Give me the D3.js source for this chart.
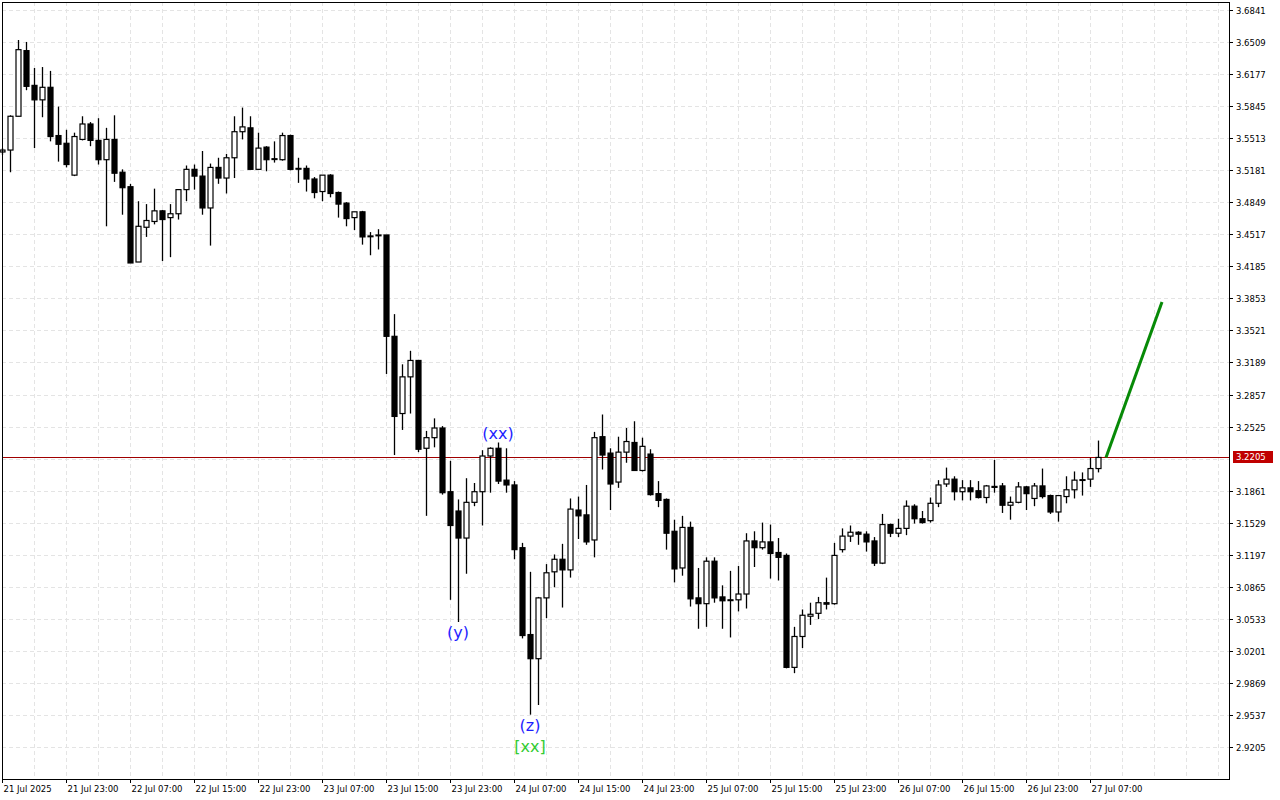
<!DOCTYPE html>
<html><head><meta charset="utf-8">
<script src="https://cdn.jsdelivr.net/npm/d3@7"></script>
<style>body{margin:0;background:#fff}svg{display:block}text{font-family:"DejaVu Sans",sans-serif}</style>
</head><body><svg id="c" width="1280" height="800"></svg>
<script>
// [open, high, low, close], hourly candles
const candles = [
[3.537,3.541,3.534,3.539],[3.539,3.575,3.516,3.574],[3.574,3.653,3.574,3.643],[3.642,3.651,3.601,3.605],
[3.606,3.624,3.541,3.591],[3.591,3.625,3.573,3.604],[3.604,3.621,3.548,3.553],[3.554,3.584,3.527,3.545],
[3.546,3.560,3.521,3.524],[3.513,3.557,3.512,3.553],[3.550,3.574,3.549,3.566],[3.566,3.568,3.543,3.549],
[3.549,3.572,3.524,3.529],[3.529,3.562,3.460,3.550],[3.550,3.575,3.506,3.515],[3.516,3.519,3.472,3.500],
[3.501,3.504,3.422,3.422],[3.423,3.486,3.423,3.460],[3.459,3.483,3.449,3.466],[3.465,3.499,3.462,3.476],
[3.476,3.477,3.424,3.467],[3.469,3.483,3.428,3.473],[3.473,3.498,3.467,3.498],[3.498,3.523,3.486,3.519],
[3.519,3.524,3.498,3.512],[3.512,3.538,3.472,3.479],[3.479,3.525,3.440,3.521],[3.521,3.531,3.504,3.510],
[3.510,3.535,3.494,3.531],[3.531,3.574,3.510,3.558],[3.558,3.583,3.550,3.563],[3.562,3.574,3.519,3.519],
[3.519,3.557,3.519,3.541],[3.542,3.543,3.517,3.529],[3.530,3.548,3.526,3.5295],[3.529,3.557,3.528,3.554],
[3.554,3.555,3.518,3.519],[3.520,3.531,3.505,3.5195],[3.520,3.523,3.496,3.509],[3.509,3.511,3.489,3.495],
[3.496,3.513,3.486,3.513],[3.513,3.514,3.490,3.494],[3.495,3.496,3.469,3.483],[3.484,3.485,3.460,3.468],
[3.469,3.475,3.456,3.475],[3.475,3.476,3.441,3.449],[3.450,3.454,3.430,3.4495],[3.451,3.457,3.436,3.4505],
[3.451,3.451,3.307,3.346],[3.346,3.369,3.223,3.263],[3.266,3.317,3.249,3.304],[3.304,3.331,3.266,3.321],
[3.321,3.321,3.226,3.229],[3.230,3.248,3.160,3.241],[3.241,3.261,3.231,3.251],[3.251,3.253,3.182,3.184],
[3.185,3.217,3.073,3.150],[3.165,3.177,3.050,3.137],[3.137,3.199,3.100,3.174],[3.174,3.194,3.170,3.185],
[3.185,3.228,3.150,3.222],[3.222,3.231,3.184,3.230],[3.230,3.236,3.193,3.196],[3.197,3.230,3.184,3.192],
[3.192,3.196,3.115,3.125],[3.127,3.132,3.033,3.036],[3.037,3.102,2.954,3.012],[3.012,3.076,2.964,3.075],
[3.075,3.110,3.054,3.101],[3.102,3.120,3.086,3.115],[3.115,3.131,3.065,3.104],[3.104,3.178,3.096,3.167],
[3.166,3.180,3.136,3.160],[3.161,3.192,3.130,3.133],[3.135,3.247,3.117,3.241],[3.242,3.265,3.208,3.223],
[3.225,3.230,3.166,3.193],[3.195,3.242,3.189,3.226],[3.226,3.251,3.215,3.237],[3.236,3.258,3.207,3.207],
[3.207,3.241,3.206,3.232],[3.224,3.229,3.181,3.182],[3.183,3.196,3.169,3.176],[3.177,3.178,3.125,3.142],
[3.144,3.156,3.091,3.105],[3.106,3.160,3.098,3.148],[3.148,3.154,3.066,3.074],[3.075,3.106,3.043,3.069],
[3.069,3.117,3.045,3.113],[3.113,3.117,3.070,3.075],[3.076,3.088,3.043,3.072],[3.073,3.103,3.034,3.0725],
[3.073,3.108,3.061,3.079],[3.079,3.142,3.064,3.134],[3.134,3.144,3.107,3.127],[3.127,3.153,3.125,3.133],
[3.133,3.151,3.095,3.121],[3.122,3.137,3.093,3.117],[3.119,3.121,3.002,3.003],[3.003,3.045,2.997,3.035],
[3.035,3.063,3.023,3.057],[3.056,3.070,3.047,3.058],[3.059,3.076,3.053,3.070],[3.070,3.096,3.063,3.0685],
[3.069,3.132,3.068,3.119],[3.125,3.147,3.122,3.139],[3.139,3.150,3.133,3.143],[3.143,3.144,3.130,3.141],
[3.141,3.144,3.123,3.133],[3.134,3.138,3.108,3.111],[3.111,3.162,3.110,3.151],[3.151,3.152,3.138,3.142],
[3.142,3.157,3.138,3.147],[3.147,3.176,3.140,3.170],[3.170,3.172,3.152,3.157],[3.157,3.165,3.152,3.153],
[3.155,3.179,3.153,3.173],[3.173,3.197,3.169,3.192],[3.193,3.210,3.190,3.198],[3.198,3.201,3.176,3.185],
[3.185,3.197,3.176,3.189],[3.189,3.197,3.176,3.185],[3.186,3.196,3.178,3.179],[3.179,3.192,3.173,3.191],
[3.1905,3.218,3.184,3.1895],[3.191,3.194,3.163,3.171],[3.171,3.180,3.156,3.174],[3.174,3.195,3.173,3.190],
[3.190,3.191,3.166,3.183],[3.178,3.194,3.170,3.191],[3.191,3.209,3.178,3.180],[3.181,3.182,3.162,3.164],
[3.164,3.181,3.154,3.181],[3.180,3.201,3.173,3.187],[3.187,3.206,3.178,3.197],[3.197,3.205,3.181,3.1975],
[3.198,3.220,3.190,3.209],[3.209,3.238,3.205,3.2205]
];
const priceTicks = [3.6841,3.6509,3.6177,3.5845,3.5513,3.5181,3.4849,3.4517,3.4185,3.3853,3.3521,3.3189,3.2857,3.2525,3.1861,3.1529,3.1197,3.0865,3.0533,3.0201,2.9869,2.9537,2.9205];
const timeLabels = ["21 Jul 2025","21 Jul 23:00","22 Jul 07:00","22 Jul 15:00","22 Jul 23:00","23 Jul 07:00","23 Jul 15:00","23 Jul 23:00","24 Jul 07:00","24 Jul 15:00","24 Jul 23:00","25 Jul 07:00","25 Jul 15:00","25 Jul 23:00","26 Jul 07:00","26 Jul 15:00","26 Jul 23:00","27 Jul 07:00"];
const currentPrice = 3.2205;
const forecast = [[138,3.2205],[145,3.3816]];
const waveLabels = [{i:57,p:3.050,t:"(y)",pos:"below",c:"#1e1eff"},{i:62,p:3.236,t:"(xx)",pos:"above",c:"#1e1eff"},{i:66,p:2.954,t:"(z)",pos:"below",c:"#1e1eff"}];
const degreeLabels = [{i:66,t:"[xx]",c:"#33cc33"}];

const svg = d3.select("#c");
const L=2,R=1229,T=2,B=779;
const x = d3.scaleLinear().domain([0,1]).range([2,10]);
const y = d3.scaleLinear().domain([2.9205,3.6841]).range([747,10]);
const g = svg.append("g");
priceTicks.concat([3.2193]).forEach(p=>g.append("line").attr("x1",L).attr("x2",R).attr("y1",Math.round(y(p))+0.5).attr("y2",Math.round(y(p))+0.5).attr("stroke","#e4e4e4").attr("stroke-dasharray","4,3"));
for(let i=4;i<=152;i+=4){const xx=Math.round(x(i))+0.5; if(xx<R) g.append("line").attr("x1",xx).attr("x2",xx).attr("y1",T).attr("y2",B).attr("stroke","#e4e4e4").attr("stroke-dasharray","4,3");}
g.append("line").attr("x1",L).attr("x2",R).attr("y1",Math.round(y(currentPrice))+0.5).attr("y2",Math.round(y(currentPrice))+0.5).attr("stroke","#a00000").attr("stroke-width",1);
const cg = svg.append("g");
candles.forEach((d,i)=>{
  const [o,h,l,c]=d; const cx=Math.round(x(i))+0.5;
  cg.append("line").attr("x1",cx).attr("x2",cx).attr("y1",y(h)).attr("y2",y(l)).attr("stroke","#000").attr("stroke-width",1.3);
  const top=y(Math.max(o,c)), bot=y(Math.min(o,c));
  const up=c>=o;
  cg.append("rect").attr("x",cx-2.5).attr("y",top).attr("width",5).attr("height",Math.max(bot-top,0.8))
    .attr("fill",up?"#fff":"#000").attr("stroke","#000").attr("stroke-width",1.2);
});
svg.append("line").attr("x1",x(forecast[0][0])).attr("y1",y(forecast[0][1])).attr("x2",x(forecast[1][0])).attr("y2",y(forecast[1][1])).attr("stroke","#078a07").attr("stroke-width",3);
waveLabels.forEach(w=>{svg.append("text").attr("x",x(w.i)).attr("y",w.pos==="below"?y(w.p)+16:y(w.p)-3).attr("text-anchor","middle").attr("font-size",16).attr("fill",w.c).text(w.t);});
degreeLabels.forEach(w=>{svg.append("text").attr("x",x(w.i)).attr("y",y(2.954)+37).attr("text-anchor","middle").attr("font-size",16).attr("fill",w.c).text(w.t);});
svg.append("rect").attr("x",L+0.5).attr("y",T+0.5).attr("width",R-L).attr("height",B-T).attr("fill","none").attr("stroke","#000");
priceTicks.forEach(p=>{const yy=Math.round(y(p))+0.5;
  svg.append("line").attr("x1",R).attr("x2",R+4).attr("y1",yy).attr("y2",yy).attr("stroke","#000");
  svg.append("text").attr("x",1236).attr("y",yy+3).attr("font-size",8.5).attr("fill","#000").text(p.toFixed(4));});
const cy=Math.round(y(currentPrice));
svg.append("rect").attr("x",R+4).attr("y",cy-6).attr("width",40).attr("height",12).attr("fill","#c00000");
svg.append("text").attr("x",1236).attr("y",cy+3).attr("font-size",8.5).attr("fill","#fff").text(currentPrice.toFixed(4));
timeLabels.forEach((t,k)=>{const xx=Math.round(x(k*8))+0.5;
  svg.append("line").attr("x1",xx).attr("x2",xx).attr("y1",B).attr("y2",B+4).attr("stroke","#000");
  svg.append("text").attr("x",xx+1).attr("y",792).attr("font-size",8.5).attr("fill","#000").text(t);});
</script></body></html>
